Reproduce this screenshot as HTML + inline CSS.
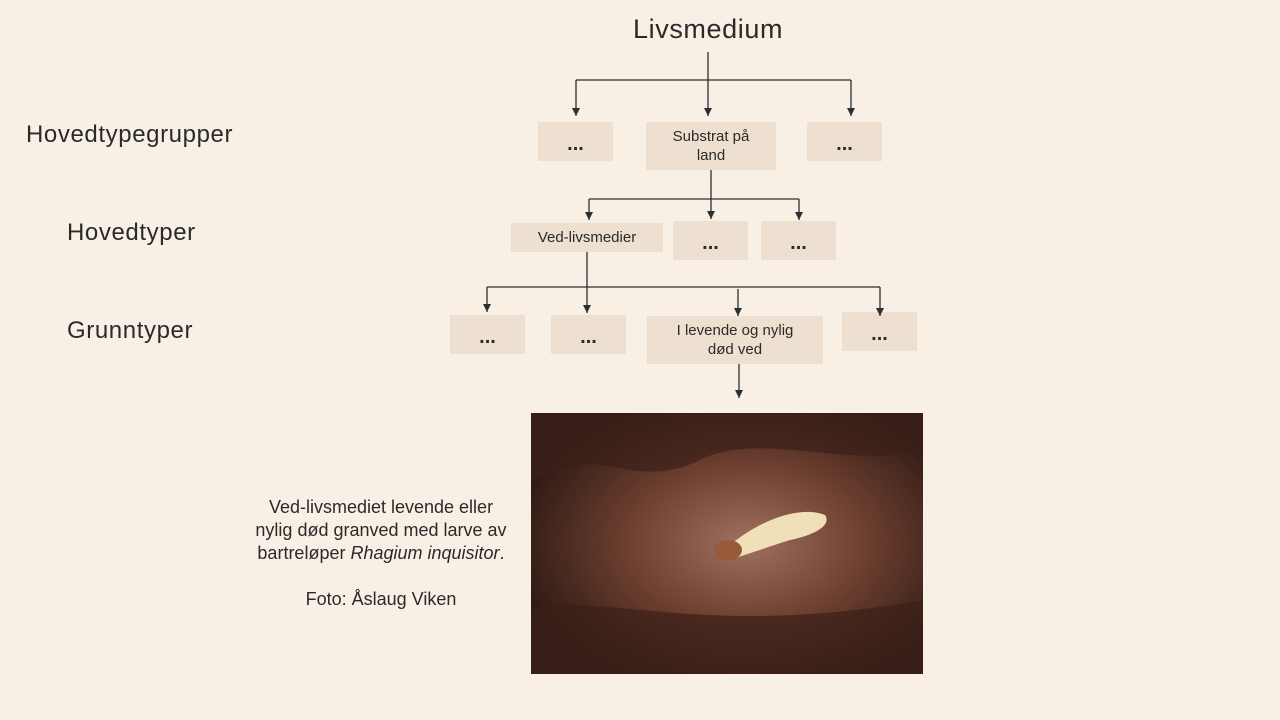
<!DOCTYPE html>
<html><head><meta charset="utf-8"><style>
body{margin:0;width:1280px;height:720px;background:#f9f0e5;position:relative;overflow:hidden;font-family:"Liberation Sans",sans-serif;color:#2a2a2a}
.b{position:absolute;box-sizing:border-box;background:#ede0d0;display:flex;align-items:center;justify-content:center;text-align:center;font-size:15px;line-height:19px}
.d{font-size:20px;font-weight:bold;padding-top:6px}
.l{position:absolute;font-size:24px;letter-spacing:0.6px}
</style></head><body>
<div class="l" style="left:633px;top:14px;font-size:27px">Livsmedium</div>
<div class="l" style="left:26px;top:121px">Hovedtypegrupper</div>
<div class="l" style="left:67px;top:219px">Hovedtyper</div>
<div class="l" style="left:67px;top:317px">Grunntyper</div>

<div class="b d" style="left:538px;top:122px;width:75px;height:39px">...</div>
<div class="b" style="left:646px;top:122px;width:130px;height:48px">Substrat på<br>land</div>
<div class="b d" style="left:807px;top:122px;width:75px;height:39px">...</div>

<div class="b" style="left:511px;top:223px;width:152px;height:29px">Ved-livsmedier</div>
<div class="b d" style="left:673px;top:221px;width:75px;height:39px">...</div>
<div class="b d" style="left:761px;top:221px;width:75px;height:39px">...</div>

<div class="b d" style="left:450px;top:315px;width:75px;height:39px">...</div>
<div class="b d" style="left:551px;top:315px;width:75px;height:39px">...</div>
<div class="b" style="left:647px;top:316px;width:176px;height:48px">I levende og nylig<br>død ved</div>
<div class="b d" style="left:842px;top:312px;width:75px;height:39px">...</div>

<svg width="1280" height="720" style="position:absolute;left:0;top:0">
<defs><marker id="a" markerWidth="8" markerHeight="8" refX="8" refY="4" orient="auto" markerUnits="userSpaceOnUse"><path d="M0,0 L8,4 L0,8z" fill="#2a2f33"/></marker>
<radialGradient id="g" cx="0.55" cy="0.5" r="0.6"><stop offset="0" stop-color="#a07060"/><stop offset="0.5" stop-color="#6e4030"/><stop offset="1" stop-color="#2e1a14"/></radialGradient></defs>
<g stroke="#2a2f33" stroke-width="1.3" fill="none">
<path d="M708 52V80M576 80H851"/>
<path d="M576 80V116" marker-end="url(#a)"/><path d="M708 80V116" marker-end="url(#a)"/><path d="M851 80V116" marker-end="url(#a)"/>
<path d="M589 199H799"/>
<path d="M711 170V219" marker-end="url(#a)"/><path d="M589 199V220" marker-end="url(#a)"/><path d="M799 199V220" marker-end="url(#a)"/>
<path d="M487 287H880"/>
<path d="M587 252V313" marker-end="url(#a)"/><path d="M487 287V312" marker-end="url(#a)"/><path d="M738 289V316" marker-end="url(#a)"/><path d="M880 287V316" marker-end="url(#a)"/>
<path d="M739 364V398" marker-end="url(#a)"/>
</g>
<rect x="531" y="413" width="392" height="261" fill="url(#g)"/>
<path d="M531 413H923V450C850 470 760 430 700 460 640 490 600 450 560 470L531 480Z" fill="#3a2018" opacity=".7"/>
<path d="M531 610C600 590 700 640 923 600V674H531Z" fill="#3a2018" opacity=".7"/>
<path d="M730 545C760 520 800 505 825 515 832 525 815 535 790 540 765 548 745 555 735 558Z" fill="#f0e0b8"/>
<ellipse cx="728" cy="550" rx="14" ry="10" fill="#9a5a3a"/>
</svg>
<div style="position:absolute;left:238px;top:496px;width:286px;text-align:center;font-size:18px;line-height:23px"><span style="display:inline-block;width:260px">Ved-livsmediet levende eller</span><br>nylig død granved med larve av bartreløper <i>Rhagium inquisitor</i>.<br><br>Foto: Åslaug Viken</div>
</body></html>
